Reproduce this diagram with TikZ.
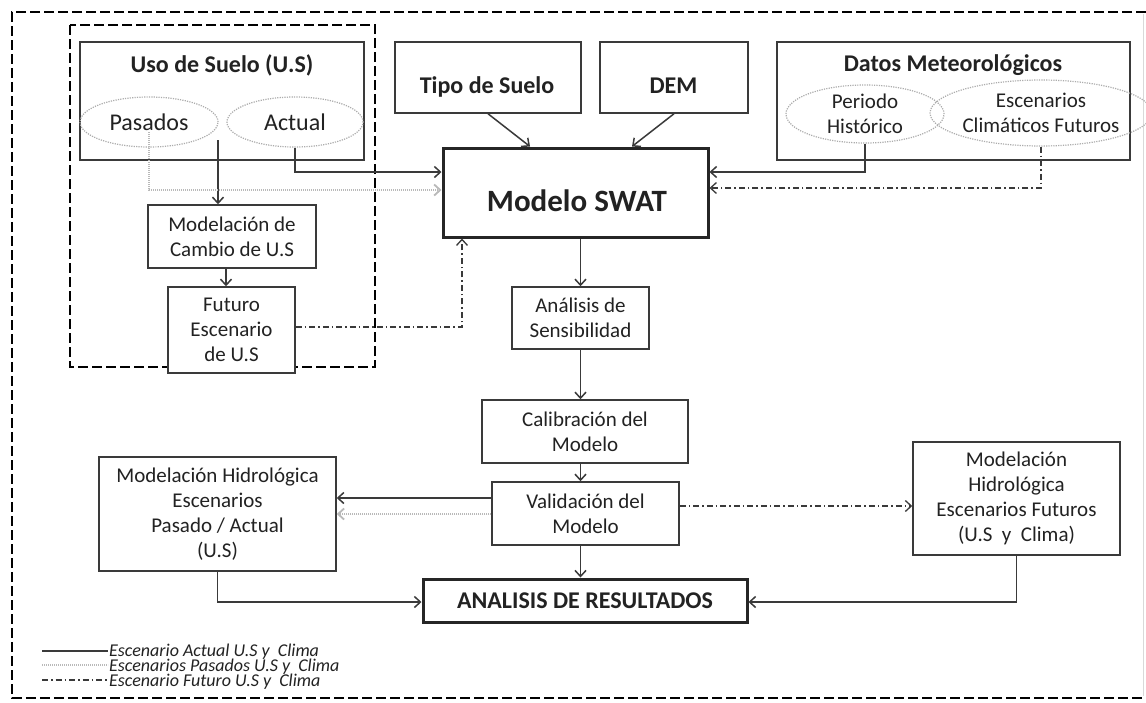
\documentclass[tikz,border=0pt]{standalone}
\usepackage{fontspec}
\setmainfont{Carlito}
\usetikzlibrary{arrows.meta,shapes.geometric}
\definecolor{ln}{HTML}{3a3a3a}
\definecolor{tx}{HTML}{222222}
\begin{document}
\begin{tikzpicture}[x=1pt,y=-1pt,
 box/.style={draw=ln, line width=1.5pt, fill=white, rectangle, inner sep=0pt, align=center, text=tx, font=\fontsize{21}{25}\selectfont},
 heavybox/.style={box, line width=3pt, draw=black!85},
 ell/.style={ellipse, draw=gray!65, line width=1.2pt, dash pattern=on 1.2pt off 1.2pt, inner sep=0pt, align=center, text=tx},
 arr/.style={-{Straight Barb[length=6pt,width=11pt]}},
 actl/.style={draw=ln, line width=1.5pt},
 pasl/.style={draw=gray!55, line width=1.8pt, dash pattern=on 1.2pt off 0.8pt},
 futl/.style={draw=ln, line width=1.3pt, dash pattern=on 6pt off 3pt on 1.5pt off 3pt},
 frame/.style={draw=black, line width=2.8pt, dash pattern=on 10pt off 4pt},
 ttl/.style={font=\fontsize{24}{28}\selectfont\bfseries, text=tx, inner sep=0pt},
 leg/.style={font=\fontsize{18}{15}\selectfont\itshape, text=tx, inner sep=0pt, anchor=base west},
 ]
\fill[white] (0,0) rectangle (1146,702);
\useasboundingbox (0,0) rectangle (1146,702);

% frames
\draw[frame] (1146,12) -- (12,12) -- (12,698) -- (1146,698);
\draw[gray!30, line width=1pt] (1143,14) -- (1143,696);
\draw[frame] (70,25) rectangle (375,367);

% Uso de suelo
\node[box, minimum width=284pt, minimum height=118pt] (uso) at (222,101) {};
\node[ttl, anchor=base] (usot) at (222,72) {Uso de Suelo (U.S)};
\node[ell, minimum width=138pt, minimum height=50pt, font=\fontsize{24}{28}\selectfont] (pasados) at (149,122) {Pasados};
\node[ell, minimum width=136pt, minimum height=50pt, font=\fontsize{24}{28}\selectfont] (actual) at (295,122) {Actual};

\node[box, minimum width=168pt, minimum height=63pt] (modcam) at (232,236.5) {Modelación de\\Cambio de U.S};
\node[box, minimum width=127pt, minimum height=86pt] (futuro) at (231.5,330) {Futuro\\Escenario\\de U.S};

% top inputs
\node[box, minimum width=186pt, minimum height=71pt] (tipo) at (488,77.5) {};
\node[ttl, anchor=base] (tipot) at (487,93) {Tipo de Suelo};
\node[box, minimum width=148pt, minimum height=71pt] (dem) at (674,77.5) {};
\node[ttl, anchor=base] (demt) at (673.5,93) {DEM};

\node[box, minimum width=353pt, minimum height=118pt] (datos) at (953.5,101) {};
\node[ttl, anchor=base] (datost) at (953,71) {Datos Meteorológicos};
\node[ell, minimum width=158pt, minimum height=58pt, font=\fontsize{21}{25}\selectfont] (periodo) at (865,114) {Periodo\\Histórico};
\node[ell, minimum width=176pt, minimum height=66pt, font=\fontsize{21}{25}\selectfont] (escen) at (1041,113) {Escenarios\\Climáticos Futuros};

% central chain
\node[heavybox, minimum width=265pt, minimum height=89pt] (swat) at (575.5,192.5) {};
\node[font=\fontsize{31}{36}\selectfont\bfseries, text=tx, inner sep=0pt, anchor=base] (swatt) at (577,211) {Modelo SWAT};
\node[box, minimum width=137pt, minimum height=62pt] (anal) at (580.5,318) {Análisis de\\Sensibilidad};
\node[box, minimum width=206pt, minimum height=63pt] (calib) at (585,431.5) {Calibración del\\Modelo};
\node[box, minimum width=187pt, minimum height=63pt] (valid) at (585.5,513.5) {Validación del\\Modelo};
\node[box, minimum width=237pt, minimum height=114pt] (mhpa) at (217.5,514) {Modelación Hidrológica\\Escenarios\\Pasado / Actual\\(U.S)};
\node[box, minimum width=207pt, minimum height=113pt] (mhf) at (1016.5,498.5) {Modelación\\Hidrológica\\Escenarios Futuros\\(U.S~ y~ Clima)};
\node[heavybox, minimum width=324pt, minimum height=43pt, font=\fontsize{24}{28}\selectfont\bfseries] (res) at (585,600.5) {ANALISIS DE RESULTADOS};

% connectors
\coordinate (u1) at (218,140);
\draw[actl, arr] (u1) -- (u1 |- modcam.north);
\coordinate (p1) at (149,132);
\draw[pasl, arr] (p1) |- ([yshift=2.5pt]swat.west);
\draw[actl, arr] (actual.south) |- ([yshift=20.5pt]swat.west);
\coordinate (m1) at (226,268);
\draw[actl, arr] (m1) -- (m1 |- futuro.north);
\draw[futl, arr] ([yshift=3pt]futuro.east) -| ([xshift=-113.5pt]swat.south);
\draw[actl, arr] (tipo.south) -- ([xshift=-45.5pt]swat.north);
\draw[actl, arr] (dem.south) -- ([xshift=56.5pt]swat.north);
\draw[actl, arr] (periodo.south) |- ([yshift=20.5pt]swat.east);
\draw[futl, arr] (escen.south) |- ([yshift=4.5pt]swat.east);

\draw[actl, arr] (swat.south -| anal.north) -- (anal.north);
\draw[actl, arr] (anal.south) -- (anal.south |- calib.north);
\draw[actl, arr] (calib.south -| anal.south) -- (valid.north -| anal.south);
\draw[actl, arr] (valid.south -| anal.south) -- (res.north -| anal.south);

\coordinate (vs1) at ([yshift=15.5pt]valid.west);
\draw[actl, arr] (vs1) -- (vs1 -| mhpa.east);
\coordinate (vs2) at ([yshift=-0.5pt]valid.west);
\draw[pasl, arr] (vs2) -- (vs2 -| mhpa.east);
\coordinate (vr) at ([yshift=7.5pt]valid.east);
\draw[futl, arr] (vr) -- (vr -| mhf.west);

\draw[actl, arr] (mhpa.south) |- ([yshift=-1.5pt]res.west);
\draw[actl, arr] (mhf.south) |- ([yshift=-1.5pt]res.east);

% legend
\coordinate (l1a) at (42,651); \coordinate (l1b) at (108,651);
\coordinate (l2a) at (42,665); \coordinate (l2b) at (108,665);
\coordinate (l3a) at (42,680); \coordinate (l3b) at (108,680);
\draw[actl] (l1a) -- (l1b);
\draw[pasl] (l2a) -- (l2b);
\draw[futl] (l3a) -- (l3b);
\node[leg] (t1) at (109,656) {Escenario Actual U.S y~ Clima};
\node[leg] (t2) at (109,671) {Escenarios Pasados U.S y~ Clima};
\node[leg] (t3) at (109,686) {Escenario Futuro U.S y~ Clima};
\end{tikzpicture}
\end{document}
